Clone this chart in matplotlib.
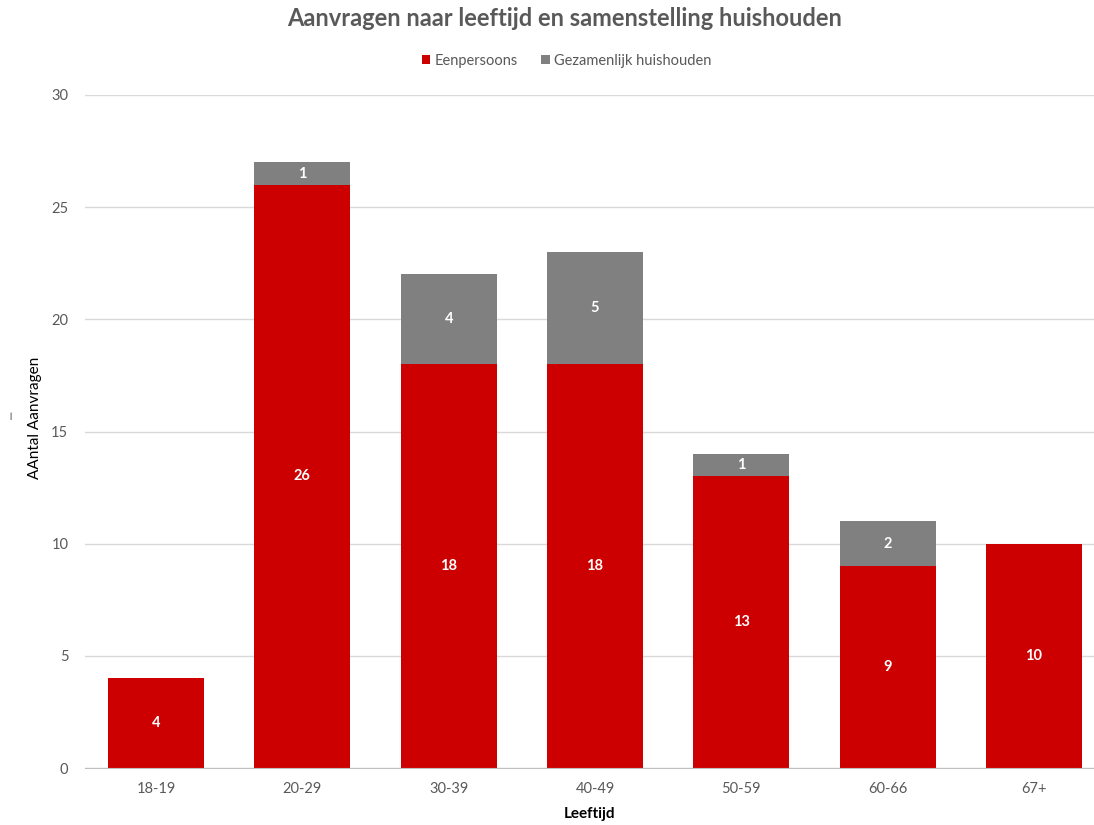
import matplotlib
matplotlib.use("Agg")
import matplotlib.pyplot as plt

categories = ["18-19", "20-29", "30-39", "40-49", "50-59", "60-66", "67+"]
eenpersoons = [4, 26, 18, 18, 13, 9, 10]
gezamenlijk = [0, 1, 4, 5, 1, 2, 0]
yticks = [0, 5, 10, 15, 20, 25, 30]

plt.rcParams["font.family"] = ["Lato", "DejaVu Sans"]
RED = "#cc0000"
GREY = "#808080"
TXT = "#595959"

fig = plt.figure(figsize=(10.94, 8.25), dpi=100)
ax = fig.add_axes([85 / 1094, 57 / 825, 1009 / 1094, 673 / 825])

x = range(len(categories))
b1 = ax.bar(x, eenpersoons, width=0.656, color=RED, label="Eenpersoons", zorder=2)
b2 = ax.bar(x, gezamenlijk, width=0.656, bottom=eenpersoons, color=GREY,
            label="Gezamenlijk huishouden", zorder=2)

for i in x:
    if eenpersoons[i]:
        ax.text(i, eenpersoons[i] / 2, str(eenpersoons[i]), ha="center", va="center",
                color="white", fontsize=10.5, fontweight="bold")
    if gezamenlijk[i]:
        ax.text(i, eenpersoons[i] + gezamenlijk[i] / 2, str(gezamenlijk[i]), ha="center",
                va="center", color="white", fontsize=10.5, fontweight="bold")

ax.set_xlim(-0.485, 6.41)
ax.set_ylim(0, 30)
ax.set_yticks(yticks)
ax.set_xticks(list(x))
ax.set_xticklabels(categories)
ax.yaxis.grid(True, color="#d9d9d9", linewidth=1, zorder=0)
ax.set_axisbelow(True)
for s in ["top", "right", "left"]:
    ax.spines[s].set_visible(False)
ax.spines["bottom"].set_color("#bfbfbf")
ax.tick_params(axis="both", length=0, labelsize=10.5, labelcolor=TXT, pad=10)
ax.tick_params(axis="y", pad=12)

ax.set_xlabel("Leeftijd", fontsize=11, fontweight="bold", color="black", labelpad=8)
fig.text(35 / 1094, 1 - 418 / 825, "AAntal Aanvragen", rotation=90, ha="center",
         va="center", fontsize=11, color="black")
fig.text(10 / 1094, 1 - 416 / 825, "|", ha="center", va="center",
         fontsize=6, color="black")

fig.text(0.516, 1 - 19 / 825, "Aanvragen naar leeftijd en samenstelling huishouden",
         ha="center", va="center", fontsize=17, fontweight="bold", color=TXT)
fig.legend(handles=[b1, b2], loc="center", bbox_to_anchor=(0.518, 1 - 61 / 825), ncol=2,
           frameon=False, fontsize=10.5, handlelength=0.6, handleheight=0.6,
           handletextpad=0.3, columnspacing=1.6, labelcolor=TXT)

fig.savefig("out.png", dpi=100)
